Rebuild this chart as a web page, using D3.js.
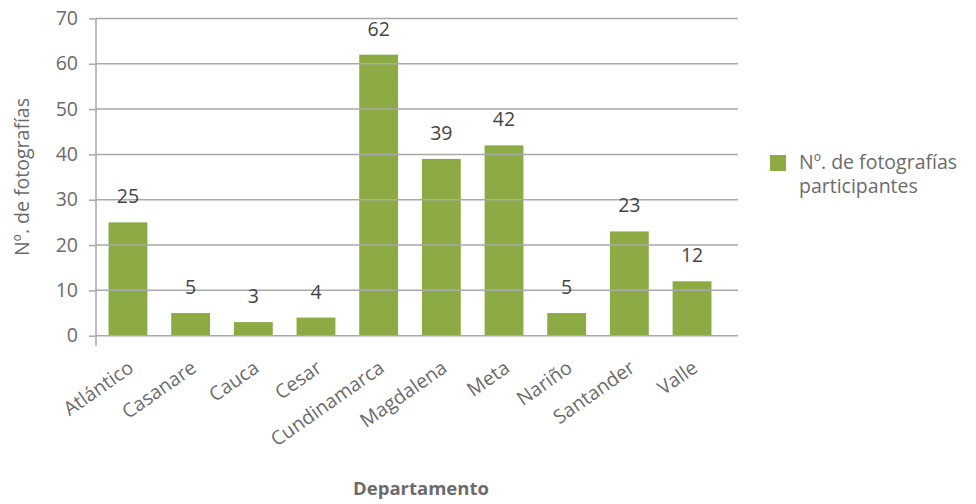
<!DOCTYPE html>
<html><head><meta charset="utf-8">
<script src="https://cdn.jsdelivr.net/npm/d3@7"></script>
<style>body{margin:0;background:#fff;} text{font-family:"Open Sans",sans-serif;}</style>
</head><body><svg id="c" width="976" height="504"></svg>
<script>
const categories = ["Atlántico","Casanare","Cauca","Cesar","Cundinamarca","Magdalena","Meta","Nariño","Santander","Valle"];
const values = [25,5,3,4,62,39,42,5,23,12];
const yTicks = [0,10,20,30,40,50,60,70];
const seriesName = ["Nº. de fotografías","participantes"];
const yTitle = "Nº. de fotografías";
const xTitle = "Departamento";

(function(){
const svg = d3.select("#c");
const pl = 96, pr = 738, pt = 18.4, pb = 335.7;
const fs = "19.5px";
const x = d3.scaleBand().domain(categories).range([pl, pl + 628]).paddingInner(0.38).paddingOuter(0.2);
const y = d3.scaleLinear().domain([0,70]).range([pb, pt]);
const green = "#8CAB45", grid = "#A9A9A9", tc = "#6b6b6b";

svg.append("g").selectAll("rect").data(values).join("rect")
  .attr("x",(d,i)=>x(categories[i])).attr("width",x.bandwidth())
  .attr("y",d=>y(d)).attr("height",d=>y(0)-y(d)).attr("fill",green);

const yAxis = d3.axisLeft(y).tickValues(yTicks).tickSize(7).tickPadding(11).tickFormat(d3.format("d"));
const ga = svg.append("g").attr("transform",`translate(${pl},0)`).call(yAxis);
ga.select(".domain").remove();
ga.selectAll(".tick line").attr("stroke",grid).attr("stroke-width",1.5);
ga.selectAll(".tick text").attr("fill",tc).style("font-size",fs).style("font-family","'Open Sans',sans-serif");
svg.append("g").selectAll("line").data(yTicks).join("line")
  .attr("x1",pl).attr("x2",pr).attr("y1",d=>y(d)).attr("y2",d=>y(d))
  .attr("stroke",grid).attr("stroke-width",1.5);
svg.append("line").attr("x1",pl).attr("x2",pl).attr("y1",pt).attr("y2",pb+10)
  .attr("stroke",grid).attr("stroke-width",1.5);

svg.append("g").selectAll("text").data(categories).join("text")
  .attr("transform",d=>`translate(${x(d)+x.bandwidth()/2+7},${pb+35}) rotate(-35)`)
  .attr("text-anchor","end").attr("fill",tc).style("font-size",fs).text(d=>d);

svg.append("g").selectAll("text").data(values).join("text")
  .attr("x",(d,i)=>x(categories[i])+x.bandwidth()/2).attr("y",d=>y(d)-19)
  .attr("text-anchor","middle").attr("fill","#454545").style("font-size",fs).text(d=>d);

svg.append("text").attr("transform",`translate(29,${(pt+pb)/2}) rotate(-90)`)
  .attr("text-anchor","middle").attr("fill",tc).style("font-size",fs).text(yTitle);
svg.append("text").attr("x",421).attr("y",495).attr("text-anchor","middle")
  .attr("fill",tc).style("font-size","18.5px").style("font-weight","bold").text(xTitle);

svg.append("rect").attr("x",770).attr("y",155).attr("width",16).attr("height",16).attr("fill",green);
svg.append("g").selectAll("text").data(seriesName).join("text")
  .attr("x",799).attr("y",(d,i)=>169+i*24).attr("fill",tc).style("font-size",fs).text(d=>d);
})();
</script></body></html>
